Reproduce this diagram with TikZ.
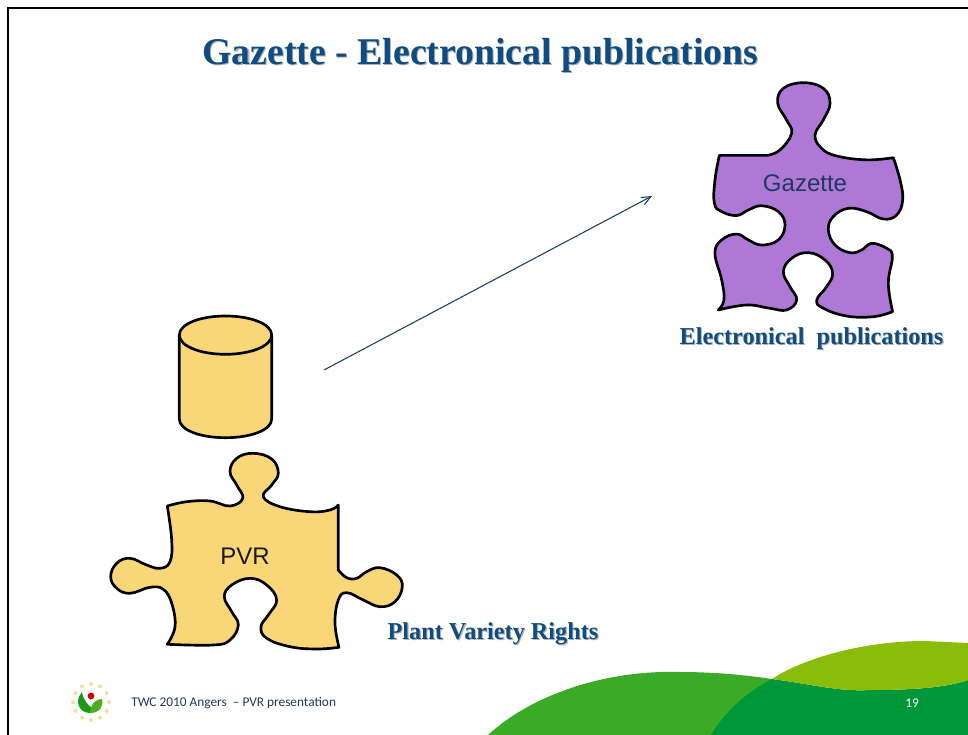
\documentclass[tikz,border=0pt]{standalone}
\usepackage{fontspec}
\setmainfont{Liberation Serif}
\newfontfamily\labelfont{Liberation Sans}
\newfontfamily\footfont{Carlito}
\usetikzlibrary{arrows.meta}
\definecolor{pvryellow}{HTML}{F9D677}
\definecolor{gazpurple}{HTML}{AE79D6}
\definecolor{headblue}{HTML}{0F4C81}
\definecolor{arrowblue}{HTML}{17406B}
\definecolor{footblue}{HTML}{1F3864}
\definecolor{lime}{HTML}{8ABD0A}
\definecolor{midgreen}{HTML}{3AAA27}
\definecolor{darkgreen}{HTML}{00963A}
\definecolor{ringdot}{HTML}{F2DF9C}
\newcommand{\shadowed}[1]{\leavevmode\rlap{\kern0.8pt\raisebox{-0.8pt}{\color{black!30}#1}}#1}

\begin{document}
\begin{tikzpicture}[x=0.75pt,y=-0.75pt]
\tikzstyle{piece} = [draw=black,line width=2pt,line join=round]
\tikzstyle{head} = [text=headblue,font=\bfseries\fontsize{18.2}{20}\selectfont,inner sep=0pt]
\tikzstyle{puzlabel} = [font=\labelfont\fontsize{18}{20}\selectfont,inner sep=0pt]
\tikzstyle{foot} = [font=\footfont\fontsize{10}{12}\selectfont,inner sep=0pt]
\useasboundingbox (0,0) rectangle (968,735);

\fill[midgreen] (488,735) .. controls (535,692) and (610,670) .. (679,672) .. controls (715,672) and (745,675) .. (772,679) -- (790,735) -- cycle;
\fill[darkgreen] (711,735) .. controls (725,712) and (745,693) .. (772,679) .. controls (810,684) and (840,692) .. (870,690) .. controls (910,690) and (945,688) .. (968,680) -- (968,735) -- cycle;
\fill[lime] (772,679) .. controls (800,660) and (860,641) .. (925,641) -- (968,643) -- (968,680) .. controls (945,688) and (910,690) .. (870,690) .. controls (840,692) and (810,684) .. (772,679) -- cycle;

\draw[black,line width=1.5pt] (8,735) -- (8,8) -- (968,8);

\node[head,font=\bfseries\fontsize{28.3}{30}\selectfont] (title) at (480.5,56) {\shadowed{Gazette - Electronical publications}};

\filldraw[piece,fill=gazpurple,shift={(680,70)},scale=0.9767,shift={(-680,-70)}] (720.3,157.4) -- (769.4,157.4) -- plot[smooth,tension=0.7] coordinates {(769.4,157.4) (782.4,151.9) (794.3,134.8) (789,121) (780,104) (785.8,88.8) (806.3,83) (826.8,88.8) (833.6,104) (826.8,121) (818.2,136.6) (825,150.2) (840.4,158) (871,162) (898.4,159.8)}
 -- plot[smooth,tension=0.7] coordinates {(898.4,159.8) (905.3,182.6) (908,203) (901.8,218.5) (888.2,222.6) (871,215) (852.4,211.6) (837,220) (831.9,233.8) (838.7,249.2) (854,257) (866,254.3) (876.2,247.5) (891.6,252.6) (897.4,261) (893.3,288.4) (897.7,317.4)}
 -- plot[smooth,tension=0.7] coordinates {(897.7,317.4) (878,322.6) (850.6,321.9) (826.8,314) (820,305.5) (830.2,291.8) (836.3,278.2) (828.5,264.5) (811.4,257) (794.3,262.8) (785.8,276.5) (792.6,291.8) (799.5,305.5) (789.2,315.7) (772,314) (748.3,310.6) (719.2,315.7)}
 -- plot[smooth,tension=0.7] coordinates {(719.2,315.7) (725,305.5) (722.7,285) (715.8,257.7) (722.7,244) (738,238) (750,244) (763.6,249.2) (780.7,244) (787.5,228.7) (780.7,215) (763.6,209) (750,213.3) (738,219) (722.7,215) (715.2,206.5) (715.8,182.6) (720.3,157.4)} -- cycle;
\node[puzlabel,text=footblue] (gazette) at (805,183) {Gazette};
\node[head] (elec) at (811.5,339) {\shadowed{Electronical\ \ publications}};

\filldraw[piece,fill=pvryellow] (179.3,335) -- (179.3,419) .. controls (179.3,430) and (200,437.7) .. (225.5,437.7) .. controls (251,437.7) and (271.7,430) .. (271.7,419) -- (271.7,335) .. controls (271.7,324) and (251,316) .. (225.5,316) .. controls (200,316) and (179.3,324) .. (179.3,335) -- cycle;
\draw[piece] (179.3,335) .. controls (179.3,346) and (200,354.3) .. (225.5,354.3) .. controls (251,354.3) and (271.7,346) .. (271.7,335);

\filldraw[piece,fill=pvryellow] plot[smooth,tension=0.7] coordinates {(167.3,506) (186.7,501.7) (210,501) (230,506) (242.7,498.3) (236.7,485) (230,471.7) (236.7,458.3) (253.3,453.3) (271.7,459) (278.3,473.3) (271.7,485) (263.3,496.7) (280,506.7) (310,511.7) (330,510) (338.3,505)}
 -- (338.3,570) -- plot[smooth,tension=0.7] coordinates {(338.3,570) (346.7,577.7) (356.7,578.3) (366.7,571.7) (380,567.7) (396.7,575) (402.3,586.7) (395,601.7) (380,606.7) (363.3,600) (346.7,592.7) (338.3,600) (335,623.3) (339,647.3)}
 -- plot[smooth,tension=0.7] coordinates {(339,647.3) (316.7,649) (290,646.7) (266.7,638.3) (261,626.7) (268.3,615) (276.7,600) (266.7,585) (250,578.3) (231.7,585) (224.3,596.7) (231.7,611.7) (238.3,625) (230,640) (213.3,645) (167.3,644.3)}
 -- plot[smooth,tension=0.7] coordinates {(167.3,644.3) (175,626.7) (171.7,603.3) (163.3,589.3) (150,587.3) (130,593.3) (116.7,588.3) (110.7,576.7) (116.7,563.3) (130,558.3) (146.7,565) (160,568.3) (170,561.7) (171.7,540) (167.3,506)} -- cycle;
\node[puzlabel,text=black!90] (pvr) at (245,556) {PVR};
\node[head] (plant) at (493,634) {\shadowed{Plant Variety Rights}};

\coordinate (from) at (324,370);
\coordinate (to) at (652,196);
\draw[arrowblue,line width=0.8pt,-{Straight Barb[length=7pt,width=6pt]}] (from) -- (to);

\foreach \a in {0,30,...,330}
  \fill[ringdot] (91,702) ++(\a:18) circle (2);
\fill[green!55!black!90] (90,713) .. controls (79,713) and (74,701) .. (82,692) .. controls (83,700) and (88,705) .. (92,708) -- (92,713) -- cycle;
\fill[midgreen!80!lime] (90,713) .. controls (100,713) and (104,706) .. (102,699) .. controls (96,699) and (91,703) .. (90,713) -- cycle;
\fill[red!80!black] (91,696) circle (3.4);

\node[foot,text=footblue,anchor=west] (footer) at (131,703) {TWC 2010 Angers\ \ – PVR presentation};
\node[foot,text=white] (pagenum) at (912,703) {19};
\end{tikzpicture}
\end{document}
